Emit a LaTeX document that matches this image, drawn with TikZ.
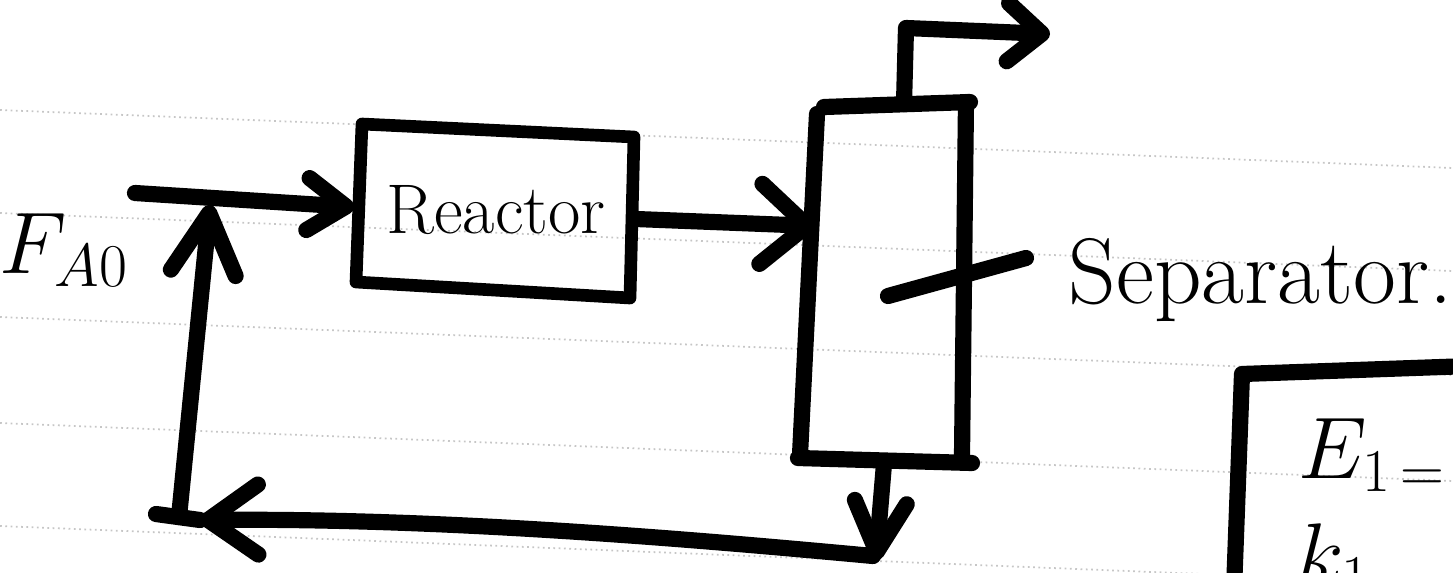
\documentclass[tikz,border=0pt]{standalone}
\usetikzlibrary{arrows.meta}
\begin{document}
\begin{tikzpicture}[x=0.01cm,y=-0.01cm,
  pen/.style={line width=4.6pt,line cap=round,line join=round},
  boxpen/.style={line width=3.6pt,line cap=round,line join=round},
  rule/.style={gray!45,line width=0.5pt,densely dotted},
  barb/.style n args={2}{-{Straight Barb[length=#1,width=#2,round]}}
]
\useasboundingbox (0,0) rectangle (1453,572);
% ruled notebook lines
\foreach \yy in {110,213,317,423,526} \draw[rule] (0,\yy) -- (1453,\yy+58);

% coordinates
\coordinate (feedL) at (135,193);
\coordinate (feedR) at (354,207);
\coordinate (rTL) at (362,124);
\coordinate (rTR) at (634,137);
\coordinate (rBR) at (630,298);
\coordinate (rBL) at (356,282);
\coordinate (rOut) at (636,219);
\coordinate (sIn) at (815,226);
\coordinate (sLT) at (817,114);
\coordinate (sLB) at (800,455);
\coordinate (sRT) at (966,102);
\coordinate (sRB) at (962,456);
\coordinate (sTopL) at (824,107);
\coordinate (sTopR) at (970,102);
\coordinate (sBotL) at (798,458);
\coordinate (sBotR) at (972,463);
\coordinate (topOut) at (904,104);
\coordinate (topUp) at (906,28);
\coordinate (topTip) at (1050,34);
\coordinate (botOut) at (884,464);
\coordinate (botTip) at (876,560);
\coordinate (recR) at (873,556);
\coordinate (recTip) at (200,520);
\coordinate (recCorner) at (156,514);
\coordinate (upBot) at (179,517);
\coordinate (upTip) at (210,205);
\coordinate (leadA) at (888,296);
\coordinate (leadB) at (1026,258);

% labels
\node[font=\fontsize{25}{30}\selectfont, inner sep=0pt] (fa0) at (64,250) {$F_{A0}$};
\node[font=\fontsize{20}{24}\selectfont, inner sep=0pt] (reactor) at (496,210) {Reactor};
\node[font=\fontsize{26.5}{30}\selectfont, inner sep=0pt, anchor=base west] (seplabel) at (1068,303) {Separator.};
\node[font=\fontsize{25}{30}\selectfont, inner sep=0pt, anchor=base west] (eq1) at (1298,478) {$E_{1\,=}$};
\node[font=\fontsize{26}{30}\selectfont, inner sep=0pt, anchor=base west] (eq2) at (1296,584) {$k_{1}$};

% reactor box
\draw[boxpen] (rTL) -- (rTR) -- (rBR) -- (rBL) -- cycle;

% separator column
\draw[pen] (sLT) -- (sLB);
\draw[pen] (sRT) -- (sRB);
\draw[pen] (sTopL) -- (sTopR);
\draw[pen] (sBotL) -- (sBotR);

% streams
\draw[pen,barb={3.8mm}{5.2mm}] (feedL) -- (feedR);
\draw[pen,barb={4.6mm}{8mm}] (rOut) -- (sIn);
\draw[pen,barb={3.4mm}{5.8mm}] (topOut) -- (topUp) -- (topTip);
\draw[pen,barb={5mm}{5.2mm}] (botOut) -- (botTip);
\draw[pen,barb={5mm}{7mm}] (recR) .. controls (700,540) and (450,518) .. (recTip);
\draw[pen] (recTip) -- (recCorner);
\draw[pen,barb={6mm}{6.5mm}] (upBot) -- (upTip);

% separator leader line
\draw[pen] (leadA) -- (leadB);

% note box at bottom right
\draw[pen] (1234,590) -- (1242,374) -- (1470,366);
\end{tikzpicture}
\end{document}
